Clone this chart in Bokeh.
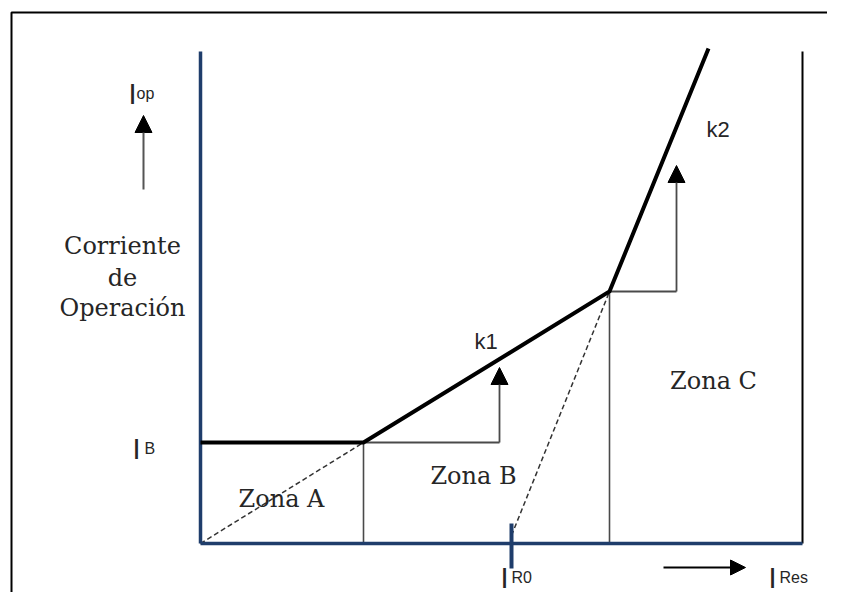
from bokeh.plotting import figure
from bokeh.models import Range1d, Arrow, NormalHead
from bokeh.core.properties import value
from bokeh.embed import file_html
from bokeh.resources import INLINE

# ---- diagram values (units: origin at axis intersection) ----
axis_x_end = 602          # length of I_Res axis
axis_y_end = 492          # length of I_op axis
char_x = [0, 163, 409, 508]       # characteristic break points (I_Res)
char_y = [101, 101, 252, 495]     # characteristic values (I_op)
I_B = 101
I_R0 = 311
k1_arrow_x = 299
k1_arrow_top = 176
k2_arrow_x = 476
k2_arrow_top = 378

zone_labels = ["Zona A", "Zona B", "Zona C"]
zone_x = [81, 273, 513]
zone_y = [45, 68, 163]

slope_labels = ["k1", "k2"]
slope_x = [274, 506]
slope_y = [202, 414]

ylabel_lines = ["Corriente", "de", "Operación"]
ylabel_y = [298, 266, 236]
ylabel_x = -78

sym_main = ["I", "I", "I", "I"]
sym_sub = ["op", "B", "R0", "Res"]
sym_x = [-72, -68, 300, 568]
sym_sub_x = [-64, -56, 311, 579]
sym_y = [450, 95, -34, -34]

BLUE = "#1F3D6B"
TXT = "#262626"

p = figure(width=827, height=592, x_range=Range1d(-200, 627), y_range=Range1d(-49, 543),
           toolbar_location=None, output_backend="svg", x_axis_type=None, y_axis_type=None,
           min_border=0, min_border_left=0, min_border_right=0, min_border_top=0,
           min_border_bottom=0, outline_line_color=None, border_fill_color="white")
p.xgrid.visible = False
p.ygrid.visible = False

# outer frame (left and top visible)
p.line([-189, -189, 700], [-100, 531, 531], line_color="black", line_width=2)

# zone separators and right boundary
p.line([char_x[1], char_x[1]], [0, I_B], line_color="#4a4a4a", line_width=1.6)
p.line([char_x[2], char_x[2]], [0, char_y[2]], line_color="#4a4a4a", line_width=1.6)
p.line([axis_x_end, axis_x_end], [0, axis_y_end], line_color="black", line_width=2)

# dashed construction lines
p.line([0, char_x[1]], [0, char_y[1]], line_color="#333333", line_width=1.5, line_dash="5 3")
p.line([I_R0, char_x[2]], [8, char_y[2]], line_color="#333333", line_width=1.5, line_dash="5 3")

# slope triangles with arrows
p.line([char_x[1], k1_arrow_x], [char_y[1], char_y[1]], line_color="#4a4a4a", line_width=1.8)
p.line([char_x[2], k2_arrow_x], [char_y[2], char_y[2]], line_color="#4a4a4a", line_width=1.8)
for ax, ay0, ay1 in [(k1_arrow_x, char_y[1], k1_arrow_top), (k2_arrow_x, char_y[2], k2_arrow_top)]:
    p.add_layout(Arrow(x_start=ax, y_start=ay0, x_end=ax, y_end=ay1,
                       line_color="#4a4a4a", line_width=1.8,
                       end=NormalHead(size=17, fill_color="black", line_color="black", line_width=1)))

# axes
p.line([0, 0], [0, axis_y_end], line_color=BLUE, line_width=3.5)
p.line([0, axis_x_end], [0, 0], line_color=BLUE, line_width=3.5)
p.line([I_R0, I_R0], [-25, 20], line_color=BLUE, line_width=4)

# characteristic
p.line(char_x, char_y, line_color="black", line_width=4, line_join="miter")

# direction arrows
p.add_layout(Arrow(x_start=-57, y_start=354, x_end=-57, y_end=428,
                   line_color="#555555", line_width=2,
                   end=NormalHead(size=17, fill_color="black", line_color="black", line_width=1)))
p.add_layout(Arrow(x_start=463, y_start=-24, x_end=545, y_end=-24,
                   line_color="black", line_width=2,
                   end=NormalHead(size=15, fill_color="black", line_color="black", line_width=1)))

# texts
p.text(x=[ylabel_x] * 3, y=ylabel_y, text=ylabel_lines, text_font=value("DejaVu Serif"),
       text_font_size="24px", text_align="center", text_baseline="alphabetic", text_color=TXT)
p.text(x=zone_x, y=zone_y, text=zone_labels, text_font=value("DejaVu Serif"),
       text_font_size="24px", text_align="center", text_baseline="alphabetic", text_color=TXT)
p.text(x=slope_x, y=slope_y, text=slope_labels, text_font=value("Liberation Sans"),
       text_font_size="22px", text_align="left", text_baseline="alphabetic", text_color=TXT)
p.text(x=sym_x, y=sym_y, text=sym_main, text_font=value("Liberation Sans"),
       text_font_size="29px", text_align="left", text_baseline="alphabetic", text_color=TXT)
p.text(x=sym_sub_x, y=sym_y, text=sym_sub, text_font=value("Liberation Sans"),
       text_font_size="16px", text_align="left", text_baseline="alphabetic", text_color=TXT)

open("out.html", "w").write(file_html(p, INLINE))
